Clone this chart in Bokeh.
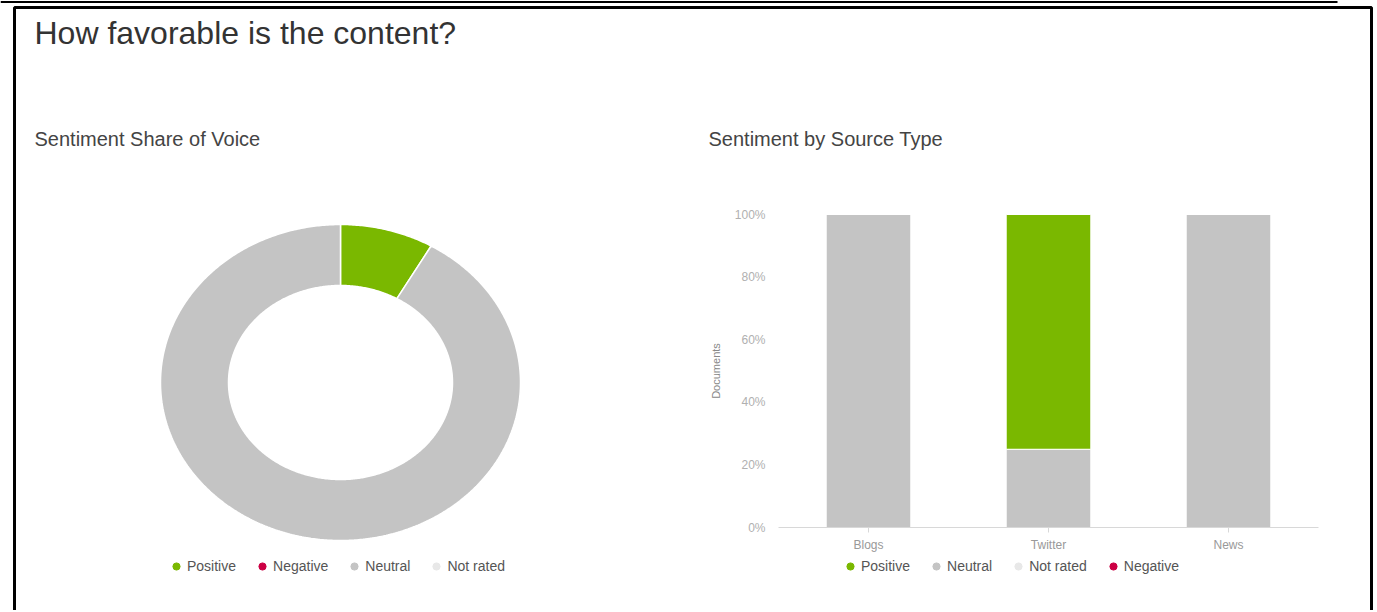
import numpy as np
from bokeh.plotting import figure
from bokeh.models import (Range1d, Label, Legend, LegendItem, LinearAxis,
                          FixedTicker, PrintfTickFormatter, ColumnDataSource)
from bokeh.embed import file_html
from bokeh.resources import INLINE

# ---------------- data ----------------
main_title = "How favorable is the content?"
donut_title = "Sentiment Share of Voice"
bar_title = "Sentiment by Source Type"

donut_labels = ["Positive", "Negative", "Neutral", "Not rated"]
donut_share = [8.4, 0.0, 91.6, 0.0]

sources = ["Blogs", "Twitter", "News"]
bar_positive = [0, 75, 0]
bar_neutral = [100, 25, 100]
bar_not_rated = [0, 0, 0]
bar_negative = [0, 0, 0]
bar_legend = ["Positive", "Neutral", "Not rated", "Negative"]
y_ticks = [0, 20, 40, 60, 80, 100]

colors = {"Positive": "#7ab800", "Negative": "#cc0044",
          "Neutral": "#c4c4c4", "Not rated": "#e8e8e8"}
FONT = "Liberation Sans"

# ---------------- canvas (pixel-like coordinates, y downwards) ----------------
W, H = 1375, 610
p = figure(width=W, height=H, output_backend="svg", toolbar_location=None,
           x_range=Range1d(0, W), y_range=Range1d(H, 0), min_border=0,
           x_axis_location=None, y_axis_location=None)
p.grid.visible = False
p.outline_line_color = None

# outer frame
p.multi_line(xs=[[14, 14, 1371, 1371], [0, 1337]],
             ys=[[H + 5, 7, 7, H + 5], [1.5, 1.5]],
             line_color="black", line_width=[3, 2])

p.add_layout(Label(x=34, y=32, text=main_title, text_baseline="middle",
                   text_font=FONT, text_font_size="32px", text_color="#333333"))
p.add_layout(Label(x=34, y=138, text=donut_title, text_baseline="middle",
                   text_font=FONT, text_font_size="20px", text_color="#444444"))
p.add_layout(Label(x=708, y=138, text=bar_title, text_baseline="middle",
                   text_font=FONT, text_font_size="20px", text_color="#444444"))

# ---------------- donut ----------------
cx, cy, rx, ry, rxi, ryi = 340, 382, 180, 158, 112, 97
total = sum(donut_share)
xs, ys, cs = [], [], []
start = 0.0
for lab, v in zip(donut_labels, donut_share):
    a0 = start
    a1 = start + 2 * np.pi * v / total
    start = a1
    if v <= 0:
        continue
    t = np.linspace(a0, a1, int((a1 - a0) / 0.01) + 2)
    xo = cx + rx * np.sin(t)
    yo = cy - ry * np.cos(t)
    xi = cx + rxi * np.sin(t[::-1])
    yi = cy - ryi * np.cos(t[::-1])
    xs.append(list(np.concatenate([xo, xi])))
    ys.append(list(np.concatenate([yo, yi])))
    cs.append(colors[lab])
p.patches(xs=xs, ys=ys, fill_color=cs, line_color="white", line_width=1.5)

def make_legend(labels, x):
    items = []
    for lab in labels:
        r = p.scatter(x=[np.nan], y=[np.nan], color=colors[lab], size=7)
        items.append(LegendItem(label=lab, renderers=[r]))
    return Legend(items=items, orientation="horizontal", location=(x, 35),
                  border_line_color=None, background_fill_alpha=0, padding=0,
                  margin=0, spacing=17, glyph_width=18, glyph_height=18,
                  label_standoff=2, label_height=18, label_text_font=FONT,
                  label_text_font_size="14px", label_text_color="#555555")

p.add_layout(make_legend(donut_labels, 167))

# ---------------- stacked bars (own ranges, placed in the right half) ----------------
bx0, bunit = 778, 180          # left edge of bar area, px per category
y0, yunit = 527, 3.13          # baseline and px per percent
p.extra_x_ranges = {"bar": Range1d(-bx0 / bunit, (W - bx0) / bunit)}
p.extra_y_ranges = {"pct": Range1d((y0 - H) / yunit, y0 / yunit)}

xpos = [i + 0.5 for i in range(len(sources))]
src = ColumnDataSource(dict(x=xpos, src=sources, Positive=bar_positive,
                            Neutral=bar_neutral, **{"Not rated": bar_not_rated},
                            Negative=bar_negative))
stack_order = ["Neutral", "Not rated", "Negative", "Positive"]
p.vbar_stack(stack_order, x="x", width=0.47, source=src,
             color=[colors[s] for s in stack_order], line_color="white",
             line_width=1, x_range_name="bar", y_range_name="pct")

xaxis = LinearAxis(x_range_name="bar", y_range_name="pct", fixed_location=0,
                   bounds=(0, len(sources)),
                   ticker=FixedTicker(ticks=xpos, minor_ticks=[]),
                   major_label_overrides={x: s for x, s in zip(xpos, sources)})
xaxis.axis_line_color = "#d8d8d8"
xaxis.major_tick_line_color = "#d8d8d8"
xaxis.major_tick_in = 0
xaxis.major_tick_out = 5
xaxis.major_label_text_font = FONT
xaxis.major_label_text_font_size = "12px"
xaxis.major_label_text_color = "#999999"
xaxis.major_label_standoff = 5
p.add_layout(xaxis, "below")

yaxis = LinearAxis(x_range_name="bar", y_range_name="pct", fixed_location=0,
                   bounds=(0, 100),
                   ticker=FixedTicker(ticks=y_ticks, minor_ticks=[]),
                   formatter=PrintfTickFormatter(format="%d%%"))
yaxis.axis_line_color = None
yaxis.major_tick_line_color = None
yaxis.minor_tick_line_color = None
yaxis.major_label_text_font = FONT
yaxis.major_label_text_font_size = "12px"
yaxis.major_label_text_color = "#b0b0b0"
yaxis.major_label_standoff = 7
yaxis.axis_label = "Documents"
yaxis.axis_label_text_font = FONT
yaxis.axis_label_text_font_size = "11px"
yaxis.axis_label_text_font_style = "normal"
yaxis.axis_label_text_color = "#888888"
yaxis.axis_label_standoff = 10
p.add_layout(yaxis, "left")

p.add_layout(make_legend(bar_legend, 841))

open("out.html", "w").write(file_html(p, INLINE))
